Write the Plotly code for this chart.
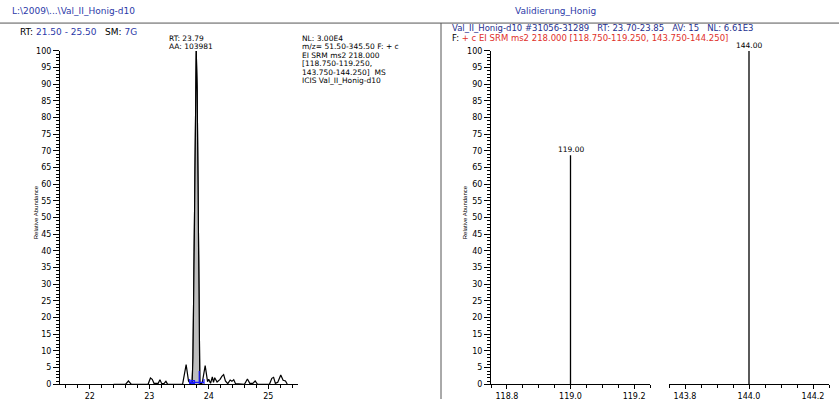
import plotly.graph_objects as go

W, H = 839, 404
FONT = "DejaVu Sans"
BLUE = "#2c3aa8"
NAVY = "#25308f"
RED = "#e0302a"

# ---- chromatogram (RT in min, relative abundance in %) ----
chrom_rt = [22.40, 22.60, 22.65, 22.70, 22.98, 23.02, 23.05, 23.08, 23.15, 23.18,
            23.21, 23.25, 23.28, 23.31, 23.56, 23.62, 23.66, 23.70,
            23.72, 23.735, 23.755, 23.775, 23.79, 23.805, 23.825, 23.84, 23.85,
            23.89, 23.94, 23.98, 24.00, 24.03, 24.06, 24.08, 24.10, 24.14, 24.17,
            24.19, 24.22, 24.25, 24.28, 24.32, 24.36, 24.39, 24.42, 24.45, 24.60,
            24.65, 24.69, 24.74, 24.78, 24.82, 25.02, 25.06, 25.09, 25.12, 25.16,
            25.21, 25.25, 25.29, 25.32]
chrom_ab = [0, 0, 1.0, 0, 0, 1.9, 1.5, 0.3, 0.3, 1.4,
            0.2, 0.3, 0.9, 0, 0, 5.9, 1.0, 0,
            0, 8, 40, 88, 100, 88, 40, 8, 0,
            0.4, 5.6, 0.8, 1.5, 0.3, 2.2, 0.6, 2.0, 0.7, 1.2,
            1.5, 2.4, 2.9, 1.0, 0.2, 1.3, 0.9, 1.4, 0.2, 0,
            1.6, 0.3, 0.3, 1.0, 0, 0, 1.8, 2.1, 0.3, 0.6,
            2.8, 1.2, 1.0, 0]

# integrated peak
peak_rt = 23.79
peak_area = 103981
peak_start, peak_end = 23.72, 23.85
integ_start, integ_end = 23.68, 23.92
integ_marker_rt, integ_marker_ab = 23.84, 4.0

# ---- averaged SRM spectrum ----
spec_mz = [119.00, 144.00]
spec_ab = [68.7, 100.0]

# axis ticks
chrom_ticks = [22, 23, 24, 25]
mz_ticks_low = [118.8, 119.0, 119.2]
mz_ticks_high = [143.8, 144.0, 144.2]


def px(x):
    return x / W


def py(y):
    return 1 - y / H


fig = go.Figure()

# full chromatogram trace
fig.add_trace(go.Scatter(x=chrom_rt, y=chrom_ab, mode="lines",
                         line=dict(color="black", width=1.2),
                         xaxis="x", yaxis="y", hoverinfo="skip"))

# shaded integrated peak
pk_rt = [t for t in chrom_rt if peak_start <= t <= peak_end]
pk_ab = [a for t, a in zip(chrom_rt, chrom_ab) if peak_start <= t <= peak_end]
fig.add_trace(go.Scatter(x=pk_rt, y=pk_ab, mode="lines", fill="tozeroy",
                         fillcolor="#bdbdbd", line=dict(color="black", width=1.2),
                         xaxis="x", yaxis="y", hoverinfo="skip"))

# integration baseline marker
fig.add_trace(go.Scatter(
    x=[integ_start, integ_start, None, integ_start, integ_end, None, integ_end, integ_end,
       None, integ_marker_rt, integ_marker_rt],
    y=[-0.3, 1.6, None, 0.6, 0.6, None, -0.3, 1.6, None, 0, integ_marker_ab],
    mode="lines", line=dict(color="#1a1aff", width=1.2),
    xaxis="x", yaxis="y", hoverinfo="skip", cliponaxis=False))
fig.add_trace(go.Scatter(
    x=[23.70, 23.70, 23.76, 23.76, 23.70], y=[0.2, 1.1, 1.1, 0.2, 0.2],
    mode="lines", line=dict(color="#1a1aff", width=1.2),
    xaxis="x", yaxis="y", hoverinfo="skip"))

# spectrum sticks
for mz, ab in zip(spec_mz, spec_ab):
    xa = "x2" if mz < 130 else "x3"
    fig.add_trace(go.Scatter(x=[mz, mz], y=[0, ab], mode="lines",
                             line=dict(color="black", width=1.3),
                             xaxis=xa, yaxis="y2", hoverinfo="skip"))
    fig.add_annotation(x=mz, y=ab, xref=xa, yref="y2", text=f"{mz:.2f}",
                       showarrow=False, yanchor="bottom", yshift=-1,
                       font=dict(family=FONT, size=7.5, color="black"))

tickfont = dict(family=FONT, size=8, color="black")
ydom = [py(389), py(48)]
common_x = dict(showline=True, linecolor="black", linewidth=1, ticks="outside",
                ticklen=4, tickcolor="black", showgrid=False, zeroline=False,
                tickfont=tickfont)
common_y = dict(domain=ydom, range=[0, 100], showline=True, linecolor="black",
                linewidth=1, ticks="outside", ticklen=6, tickcolor="black",
                tickmode="array", tickvals=list(range(0, 101, 5)),
                showgrid=False, zeroline=False, tickfont=tickfont,
                minor=dict(tickmode="linear", tick0=0, dtick=1, ticks="outside",
                           ticklen=3, tickcolor="black"))

fig.update_layout(
    width=W, height=H, margin=dict(l=0, r=0, t=0, b=0), autosize=False,
    paper_bgcolor="white", plot_bgcolor="rgba(0,0,0,0)", showlegend=False,
    xaxis=dict(domain=[px(60), px(298)], range=[21.5, 25.5], anchor="y",
               tickmode="array", tickvals=chrom_ticks,
               minor=dict(tickmode="linear", tick0=21.6, dtick=0.2, ticks="outside",
                          ticklen=3, tickcolor="black"), **common_x),
    yaxis=dict(anchor="x", **common_y),
    xaxis2=dict(domain=[px(491), px(650)], range=[118.75, 119.25], anchor="y2",
                tickmode="array", tickvals=mz_ticks_low, tickformat=".1f",
                minor=dict(tickmode="linear", tick0=118.75, dtick=0.05, ticks="outside",
                           ticklen=3, tickcolor="black"), **common_x),
    xaxis3=dict(domain=[px(669), px(829)], range=[143.75, 144.25], anchor="y2",
                tickmode="array", tickvals=mz_ticks_high, tickformat=".1f",
                minor=dict(tickmode="linear", tick0=143.75, dtick=0.05, ticks="outside",
                           ticklen=3, tickcolor="black"), **common_x),
    yaxis2=dict(anchor="x2", **common_y),
)

# frame lines
fig.add_shape(type="line", xref="paper", yref="paper", x0=0, x1=1, y0=py(19.5), y1=py(19.5),
              line=dict(color="#555555", width=1))
fig.add_shape(type="line", xref="paper", yref="paper", x0=px(441), x1=px(441), y0=py(19.5), y1=0,
              line=dict(color="#555555", width=1))


def label(x, y, text, color="black", size=9, **kw):
    fig.add_annotation(x=px(x), y=py(y), xref="paper", yref="paper", text=text,
                       showarrow=False, xanchor="left", yanchor="middle",
                       font=dict(family=FONT, size=size, color=color), **kw)


def span(text, color):
    return f'<span style="color:{color}">{text}</span>'


NB = "\u00a0"
label(10, 7.5, "L:\\2009\\...\\Val_II_Honig-d10", BLUE)
label(513, 7.5, "Validierung_Honig", BLUE)
label(18, 29, "RT:" + NB + span(f"{21.5:.2f} - {25.5:.2f}", BLUE) + NB * 3 + "SM:" + NB + span("7G", BLUE))

# peak annotation
label(167, 35, f"RT: {peak_rt:.2f}", size=7.5)
label(167, 43.7, f"AA: {peak_area}", size=7.5)

# scan filter block
nl_lines = ["NL: 3.00E4", "m/z= 51.50-345.50 F: + c", "EI SRM ms2 218.000",
            "[118.750-119.250,", "143.750-144.250]" + NB * 2 + "MS", "ICIS Val_II_Honig-d10"]
for i, line in enumerate(nl_lines):
    label(300, 35 + i * 8.75, line, size=7.5)

# spectrum header
label(450, 24.6, "Val_II_Honig-d10 #31056-31289" + NB * 3 + "RT: 23.70-23.85" + NB * 3 +
      "AV: 15" + NB * 3 + "NL: 6.61E3", NAVY, size=8.5)
label(450, 34.6, "F:" + NB + span("+ c EI SRM ms2 218.000 [118.750-119.250, 143.750-144.250]", RED),
      size=8.5)

for xc in (31, 465):
    fig.add_annotation(x=px(xc), y=py(213), xref="paper", yref="paper",
                       text="Relative Abundance", showarrow=False, textangle=-90,
                       font=dict(family="Liberation Sans", size=6, color="black"))

fig.write_html("out.html")
